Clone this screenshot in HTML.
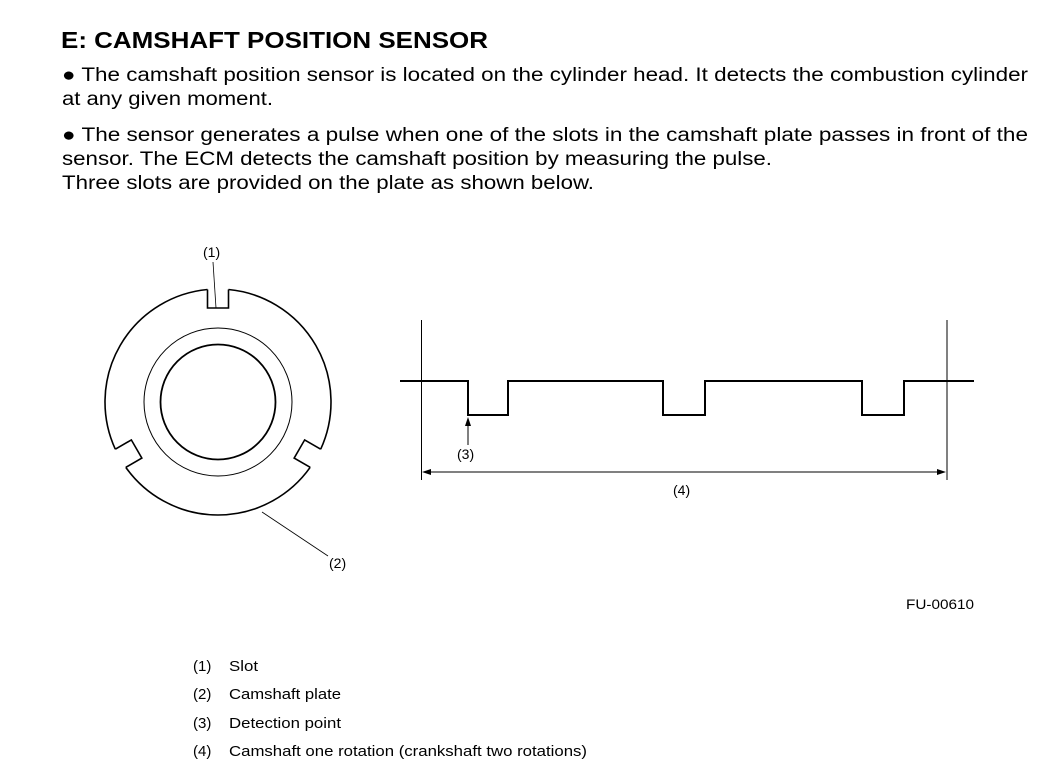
<!DOCTYPE html>
<html><head><meta charset="utf-8"><style>
html,body{margin:0;padding:0;background:#fff;}
svg{display:block;}
text{font-family:"Liberation Sans",Arial,sans-serif;fill:#000;}
</style></head><body>
<svg width="1046" height="772" viewBox="0 0 1046 772" xmlns="http://www.w3.org/2000/svg">
<text x="61" y="48" font-size="23" font-weight="bold" textLength="427" lengthAdjust="spacingAndGlyphs">E: CAMSHAFT POSITION SENSOR</text>
<g font-size="19">
<text x="62" y="81" textLength="966" lengthAdjust="spacingAndGlyphs">● The camshaft position sensor is located on the cylinder head. It detects the combustion cylinder</text>
<text x="62" y="105" textLength="211" lengthAdjust="spacingAndGlyphs">at any given moment.</text>
<text x="62" y="141" textLength="966" lengthAdjust="spacingAndGlyphs">● The sensor generates a pulse when one of the slots in the camshaft plate passes in front of the</text>
<text x="62" y="165" textLength="710" lengthAdjust="spacingAndGlyphs">sensor. The ECM detects the camshaft position by measuring the pulse.</text>
<text x="62" y="189" textLength="532" lengthAdjust="spacingAndGlyphs">Three slots are provided on the plate as shown below.</text>
</g>

<g transform="translate(218,402)" fill="none" stroke="#000">
  <circle r="74" stroke-width="1"/>
  <circle r="57.5" stroke-width="1.8"/>
  <g stroke-width="1.6">
    <g><path d="M10.5,-112.51 A113,113 0 0 1 102.69,47.16"/><path d="M-10.5,-112.51 L-10.5,-94 L10.5,-94 L10.5,-112.51"/></g>
    <g transform="rotate(120)"><path d="M10.5,-112.51 A113,113 0 0 1 102.69,47.16"/><path d="M-10.5,-112.51 L-10.5,-94 L10.5,-94 L10.5,-112.51"/></g>
    <g transform="rotate(240)"><path d="M10.5,-112.51 A113,113 0 0 1 102.69,47.16"/><path d="M-10.5,-112.51 L-10.5,-94 L10.5,-94 L10.5,-112.51"/></g>
  </g>
</g>
<line x1="213" y1="262" x2="216" y2="308" stroke="#000" stroke-width="0.8"/>
<line x1="262" y1="512" x2="328" y2="556" stroke="#000" stroke-width="0.8"/>
<g font-size="14">
<text x="203" y="257">(1)</text>
<text x="329" y="568">(2)</text>
<text x="457" y="459">(3)</text>
<text x="673" y="495">(4)</text>
<text x="906" y="609" textLength="68" lengthAdjust="spacingAndGlyphs">FU-00610</text>
</g>

<line x1="421.5" y1="320" x2="421.5" y2="480" stroke="#000" stroke-width="1"/>
<line x1="947" y1="320" x2="947" y2="480" stroke="#000" stroke-width="1"/>
<polyline fill="none" stroke="#000" stroke-width="2" points="400,381 468,381 468,415 508,415 508,381 663,381 663,415 705,415 705,381 862,381 862,415 904,415 904,381 974,381"/>
<line x1="468" y1="445" x2="468" y2="424" stroke="#000" stroke-width="1"/>
<polygon points="468,417 465,426 471,426" fill="#000"/>
<line x1="428" y1="472" x2="940" y2="472" stroke="#000" stroke-width="1"/>
<polygon points="422,472 431,469 431,475" fill="#000"/>
<polygon points="946,472 937,469 937,475" fill="#000"/>

<g font-size="15">
<text x="193" y="671">(1)</text><text x="229" y="671" textLength="29" lengthAdjust="spacingAndGlyphs">Slot</text>
<text x="193" y="699">(2)</text><text x="229" y="699" textLength="112" lengthAdjust="spacingAndGlyphs">Camshaft plate</text>
<text x="193" y="728">(3)</text><text x="229" y="728" textLength="112" lengthAdjust="spacingAndGlyphs">Detection point</text>
<text x="193" y="756">(4)</text><text x="229" y="756" textLength="358" lengthAdjust="spacingAndGlyphs">Camshaft one rotation (crankshaft two rotations)</text>
</g>
</svg>
</body></html>
